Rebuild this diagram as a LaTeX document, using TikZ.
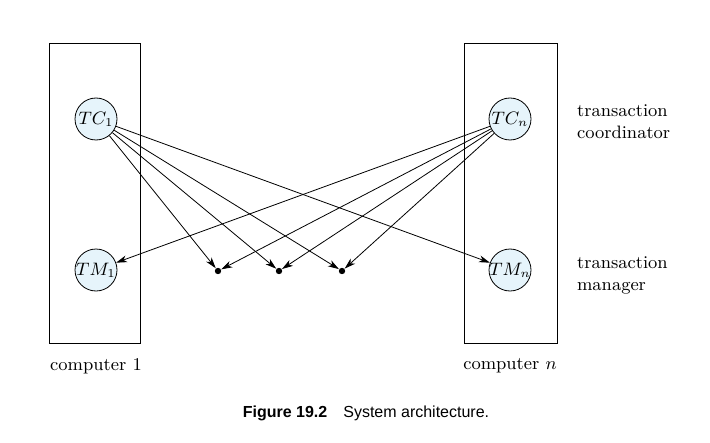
\documentclass[tikz,border=0pt]{standalone}
\usepackage{fontspec}
\usepackage{tikz}
\usetikzlibrary{arrows.meta}
\newfontfamily\capfont{Liberation Sans}
\definecolor{tcblue}{HTML}{E6F4FB}

\begin{document}
\begin{tikzpicture}[x=0.5pt,y=-0.5pt,
  every node/.style={font=\small},
  site/.style={circle,draw,fill=tcblue,minimum size=21pt,inner sep=-0.6pt,font=\fontsize{9.2}{11}\selectfont,line width=0.4pt},
  sink/.style={circle,fill,inner sep=0pt,minimum size=3.2pt},
  msg/.style={-{Stealth[length=5.5pt,width=3.4pt,inset=1.6pt]},line width=0.4pt}]
             \useasboundingbox (0,0) rectangle (710,443);

             % the two computers
             \draw[line width=0.5pt] (49,44) rectangle (140,343);
             \draw[line width=0.5pt] (464,44) rectangle (557,343);
             \node (c1) at (96,366) {computer 1};
             \node (cn) at (510,366) {computer $n$};

             % coordinators and managers
             \node[site] (tc1) at (96,119) {$TC_1$};
             \node[site] (tm1) at (96,270) {$TM_1$};
             \node[site] (tcn) at (510,119) {$TC_n$};
             \node[site] (tmn) at (510,270) {$TM_n$};

             \node[sink] (s1) at (218,271) {};
             \node[sink] (s2) at (279,271) {};
             \node[sink] (s3) at (342,271) {};

             \draw[msg] (tc1) -- (tmn);
             \draw[msg] (tc1) -- (s1);
             \draw[msg] (tc1) -- (s2);
             \draw[msg] (tc1) -- (s3);
             \draw[msg] (tcn) -- (tm1);
             \draw[msg] (tcn) -- (s1);
             \draw[msg] (tcn) -- (s2);
             \draw[msg] (tcn) -- (s3);

             \node[anchor=west,align=left] (lc) at (570,122) {transaction\\coordinator};
             \node[anchor=west,align=left] (lm) at (570,275) {transaction\\manager};

             \node (cap) at (366,413) {\capfont\footnotesize\textbf{Figure 19.2}\quad System architecture.};
             \end{tikzpicture}
\end{document}
